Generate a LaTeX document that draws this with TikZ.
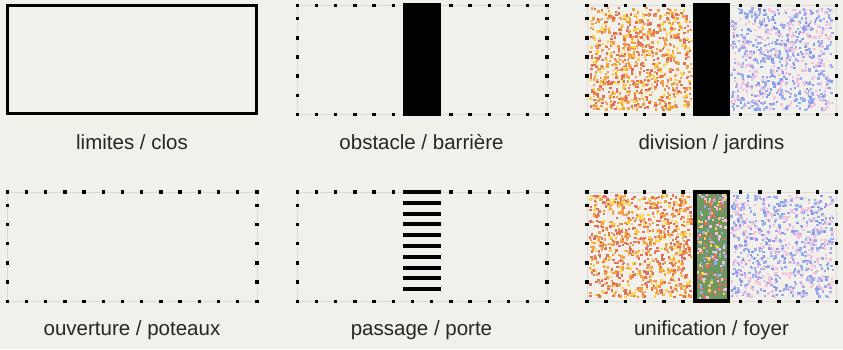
\documentclass[tikz,border=0pt]{standalone}
\usepackage{fontspec}
\setmainfont{Liberation Sans}
\usepackage{xcolor}
\usepackage{tikz}
\usetikzlibrary{positioning}

\definecolor{bg}{RGB}{241,240,235}
\definecolor{dotred}{RGB}{226,112,90}
\definecolor{dotorange}{RGB}{242,160,70}
\definecolor{dotyellow}{RGB}{255,210,70}
\definecolor{dotblue}{RGB}{152,172,242}
\definecolor{dotblueb}{RGB}{130,155,240}
\definecolor{dotpink}{RGB}{244,192,224}
\definecolor{bargreen}{RGB}{110,152,98}

\pgfmathdeclarerandomlist{warm}{{dotred}{dotorange}{dotyellow}{dotred}{dotorange}}
\pgfmathdeclarerandomlist{cool}{{dotblue}{dotblueb}{dotpink}{dotblue}{dotpink}}
\pgfmathdeclarerandomlist{mixed}{{dotred}{dotblue}{dotyellow}{dotpink}}

% dotted frame, top left corner at (#1,#2)
\newcommand\dotbox[2]{%
  \draw[edge] (#1,#2) rectangle ++(249.6,109.3);
  \draw[dots] (#1-1.75,#2) -- ++(253.1,0);
  \draw[dots] (#1-1.75,#2+109.3) -- ++(253.1,0);
  \draw[dots] (#1,#2+11.55) -- ++(0,99.5);
  \draw[dots] (#1+249.6,#2+11.55) -- ++(0,99.5);
}
% random specks: list, x, y, w, h, count
\newcommand\speckle[6]{%
  \foreach \k in {1,...,#6}{
    \pgfmathsetmacro\px{#2+(#4-2.4)*rnd}
    \pgfmathsetmacro\py{#3+(#5-2.4)*rnd}
    \pgfmathrandomitem{\dotcol}{#1}
    \fill[\dotcol] (\px,\py) rectangle ++(2.4,2.4);
  }}

\begin{document}
\begin{tikzpicture}[x=1pt,y=-1pt,
  frame/.style={line width=3pt},
  edge/.style={black!14,line width=0.6pt},
  dots/.style={line width=3.5pt,dash pattern=on 3.5pt off 15.7pt},
  lbl/.style={anchor=base,text=black!85,font=\fontsize{20.5}{24}\selectfont}]
\pgfmathsetseed{4213}
\fill[bg] (0,0) rectangle (843,349);
% limites / clos
\draw[frame] (7.5,5.5) rectangle (256.5,113.5);
\node[lbl] (clos) at (132,149) {limites / clos};
% obstacle / barriere
\dotbox{297.3}{5.3}
\fill (403,3) rectangle (441,116);
\node[lbl] (barriere) at (421.5,149) {obstacle / barrière};
% division / jardins
\speckle{warm}{589}{7}{104}{104}{880}
\speckle{cool}{730}{7}{104}{104}{800}
\dotbox{587}{5.3}
\fill (693,3) rectangle (730,116);
\node[lbl] (jardins) at (711.5,149) {division / jardins};
% ouverture / poteaux
\dotbox{7.3}{192}
\node[lbl] (poteaux) at (132,335) {ouverture / poteaux};
% passage / porte
\dotbox{297.3}{192}
\foreach \s in {0,...,9}
  \fill (403,190+10.8*\s) rectangle (441,194+10.8*\s);
\node[lbl] (porte) at (421.5,335) {passage / porte};
% unification / foyer
\speckle{warm}{589}{194}{104}{104}{880}
\speckle{cool}{730}{194}{104}{104}{800}
\dotbox{587}{192}
\fill[bargreen] (694.75,191.75) rectangle (728.25,301);
\speckle{mixed}{696}{193}{31}{107}{200}
\draw[line width=3.5pt] (694.75,191.75) rectangle (728.25,301);
\node[lbl] (foyer) at (711.5,335) {unification / foyer};
\end{tikzpicture}
\end{document}
